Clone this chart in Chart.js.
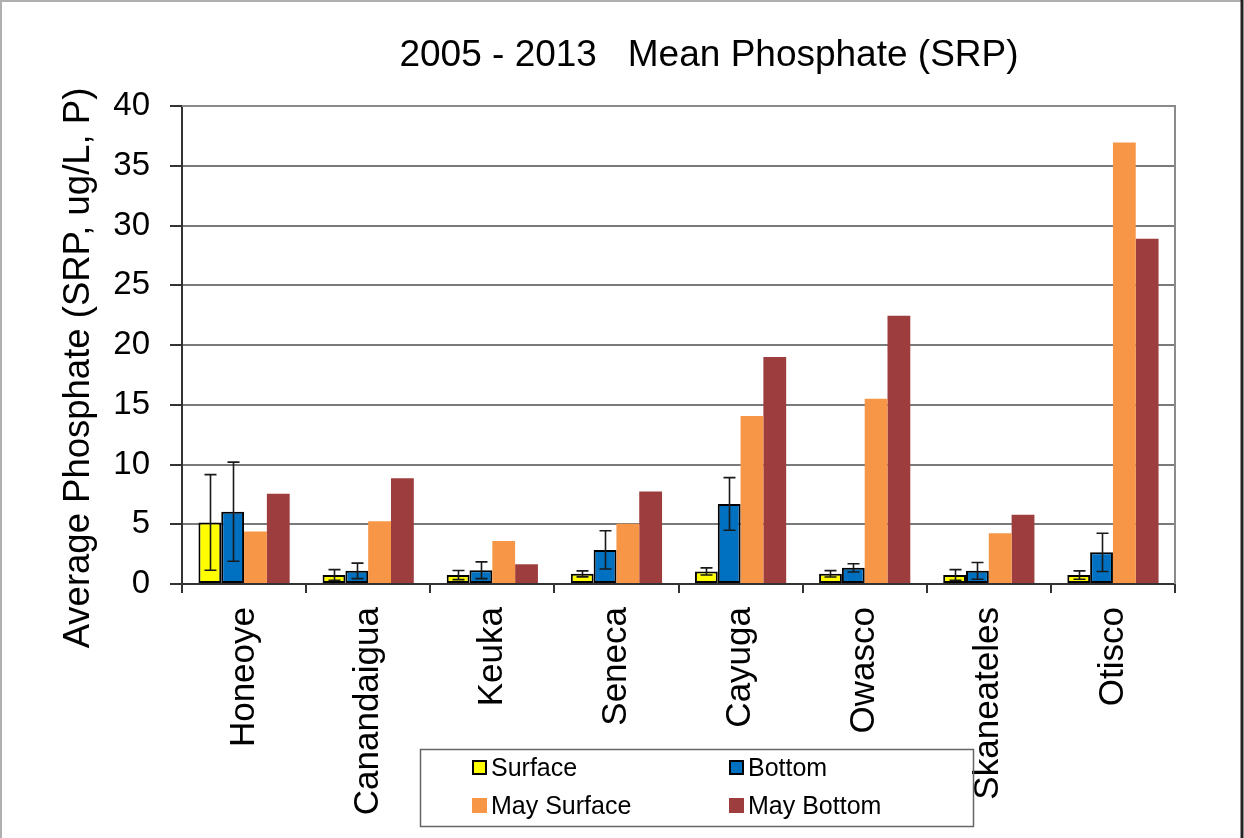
<!DOCTYPE html>
<html>
<head>
<meta charset="utf-8">
<script src="https://cdn.jsdelivr.net/npm/chart.js@4/dist/chart.umd.min.js"></script>
<style>
html,body{margin:0;padding:0;background:#fff;}
#wrap{width:1244px;height:838px;position:relative;}
canvas{display:block;}
</style>
</head>
<body>
<div id="wrap"><canvas id="c" width="1244" height="838"></canvas></div>
<script>
const categories = ['Honeoye','Canandaigua','Keuka','Seneca','Cayuga','Owasco','Skaneateles','Otisco'];
const surface    = [5.15, 0.75, 0.75, 0.85, 1.05, 0.85, 0.75, 0.75];
const surfaceErr = [4.0, 0.45, 0.38, 0.25, 0.3, 0.27, 0.45, 0.35];
const bottom     = [6.05, 1.1, 1.15, 2.85, 6.7, 1.35, 1.1, 2.65];
const bottomErr  = [4.15, 0.65, 0.7, 1.6, 2.2, 0.35, 0.7, 1.6];
const maySurface = [4.4, 5.25, 3.6, 5.05, 14.05, 15.5, 4.25, 36.95];
const mayBottom  = [7.55, 8.85, 1.65, 7.75, 19.0, 22.45, 5.8, 28.9];
const yTicks = [0, 5, 10, 15, 20, 25, 30, 35, 40];
const seriesNames = ['Surface', 'Bottom', 'May Surface', 'May Bottom'];
const titleText = '2005 - 2013   Mean Phosphate (SRP)';
const yTitleText = 'Average Phosphate (SRP, ug/L, P)';

const FONT = '"Liberation Sans", Arial, sans-serif';
const colors = ['#FFFF00', '#0070C0', '#F79646', '#9E3D3D'];
const borders = ['#000000', '#000000', null, null];

const errPlugin = {
  id: 'errbars',
  afterDatasetsDraw(chart) {
    const ctx = chart.ctx, ys = chart.scales.y;
    const errs = [surfaceErr, bottomErr];
    const vals = [surface, bottom];
    ctx.save();
    ctx.strokeStyle = '#1a1a1a';
    ctx.lineWidth = 1.6;
    for (let d = 0; d < 2; d++) {
      const meta = chart.getDatasetMeta(d);
      meta.data.forEach((bar, i) => {
        const x = Math.round(bar.x) + 0.5;
        const yt = ys.getPixelForValue(vals[d][i] + errs[d][i]);
        const yb = ys.getPixelForValue(vals[d][i] - errs[d][i]);
        ctx.beginPath();
        ctx.moveTo(x, yt); ctx.lineTo(x, yb);
        ctx.moveTo(x - 6, yt); ctx.lineTo(x + 6, yt);
        ctx.moveTo(x - 6, yb); ctx.lineTo(x + 6, yb);
        ctx.stroke();
      });
    }
    ctx.restore();
  }
};

const framePlugin = {
  id: 'frame',
  beforeDatasetsDraw(chart) {
    const {ctx, chartArea: a} = chart;
    ctx.save();
    ctx.strokeStyle = '#8a8a8a';
    ctx.lineWidth = 2;
    ctx.beginPath();
    ctx.moveTo(a.left, a.top); ctx.lineTo(a.right, a.top); ctx.lineTo(a.right, a.bottom);
    ctx.stroke();
    ctx.restore();
  },
  afterDraw(chart) {
    const ctx = chart.ctx;
    ctx.save();
    // outer frame
    ctx.strokeStyle = '#b0b0b0';
    ctx.lineWidth = 2;
    ctx.beginPath();
    ctx.moveTo(1, 838); ctx.lineTo(1, 1); ctx.lineTo(1242, 1);
    ctx.stroke();
    ctx.strokeStyle = '#222';
    ctx.lineWidth = 3;
    ctx.beginPath();
    ctx.moveTo(1242, 0); ctx.lineTo(1242, 838);
    ctx.stroke();
    // title
    ctx.fillStyle = '#000';
    ctx.font = '37px ' + FONT;
    ctx.textAlign = 'center';
    ctx.textBaseline = 'alphabetic';
    ctx.fillText(titleText, 709, 66);
    // y title
    ctx.save();
    ctx.translate(79, 368);
    ctx.rotate(-Math.PI / 2);
    ctx.font = '36.5px ' + FONT;
    ctx.textAlign = 'center';
    ctx.textBaseline = 'middle';
    ctx.fillText(yTitleText, 0, 0);
    ctx.restore();
    // legend
    ctx.strokeStyle = '#666';
    ctx.lineWidth = 1.5;
    ctx.strokeRect(420.5, 749.5, 553, 77);
    const pos = [[472, 768], [729, 768], [472, 806], [729, 806]];
    ctx.font = '25px ' + FONT;
    ctx.textAlign = 'left';
    ctx.textBaseline = 'middle';
    for (let k = 0; k < 4; k++) {
      const [x, y] = pos[k];
      ctx.fillStyle = colors[k];
      ctx.fillRect(x, y - 8, 15, 15);
      if (borders[k]) {
        ctx.strokeStyle = '#000';
        ctx.lineWidth = 2;
        ctx.strokeRect(x + 1, y - 7, 13, 13);
      }
      ctx.fillStyle = '#000';
      ctx.fillText(seriesNames[k], x + 19, y + 1);
    }
    ctx.restore();
  }
};

const datasets = [surface, bottom, maySurface, mayBottom].map((arr, k) => ({
  label: seriesNames[k],
  data: arr,
  backgroundColor: colors[k],
  borderColor: borders[k] || colors[k],
  borderWidth: borders[k] ? 2 : 0,
  borderSkipped: false,
  categoryPercentage: 0.735,
  barPercentage: 1.0
}));

new Chart(document.getElementById('c'), {
  type: 'bar',
  data: { labels: categories, datasets },
  options: {
    responsive: false,
    animation: false,
    layout: { padding: { top: 106, right: 69, left: 0, bottom: 0 } },
    plugins: { legend: { display: false }, title: { display: false }, tooltip: { enabled: false } },
    scales: {
      x: {
        offset: true,
        grid: { display: true, offset: true, drawOnChartArea: false, drawTicks: true, tickLength: 9, color: '#333', lineWidth: 2 },
        border: { display: true, color: '#333', width: 2 },
        ticks: {
          minRotation: 90, maxRotation: 90, autoSkip: false, padding: 14,
          color: '#000', font: { family: FONT, size: 35 }
        },
        afterFit(scale) { scale.height = 254; }
      },
      y: {
        min: 0, max: 40,
        afterBuildTicks(scale) { scale.ticks = yTicks.map(v => ({ value: v })); },
        grid: { color: '#7a7a7a', lineWidth: 2, drawTicks: true, tickLength: 12, tickColor: '#333' },
        border: { display: true, color: '#333', width: 2 },
        ticks: { padding: 20, color: '#000', font: { family: FONT, size: 33 } },
        afterFit(scale) { scale.width = 182; }
      }
    }
  },
  plugins: [framePlugin, errPlugin]
});
</script>
</body>
</html>
